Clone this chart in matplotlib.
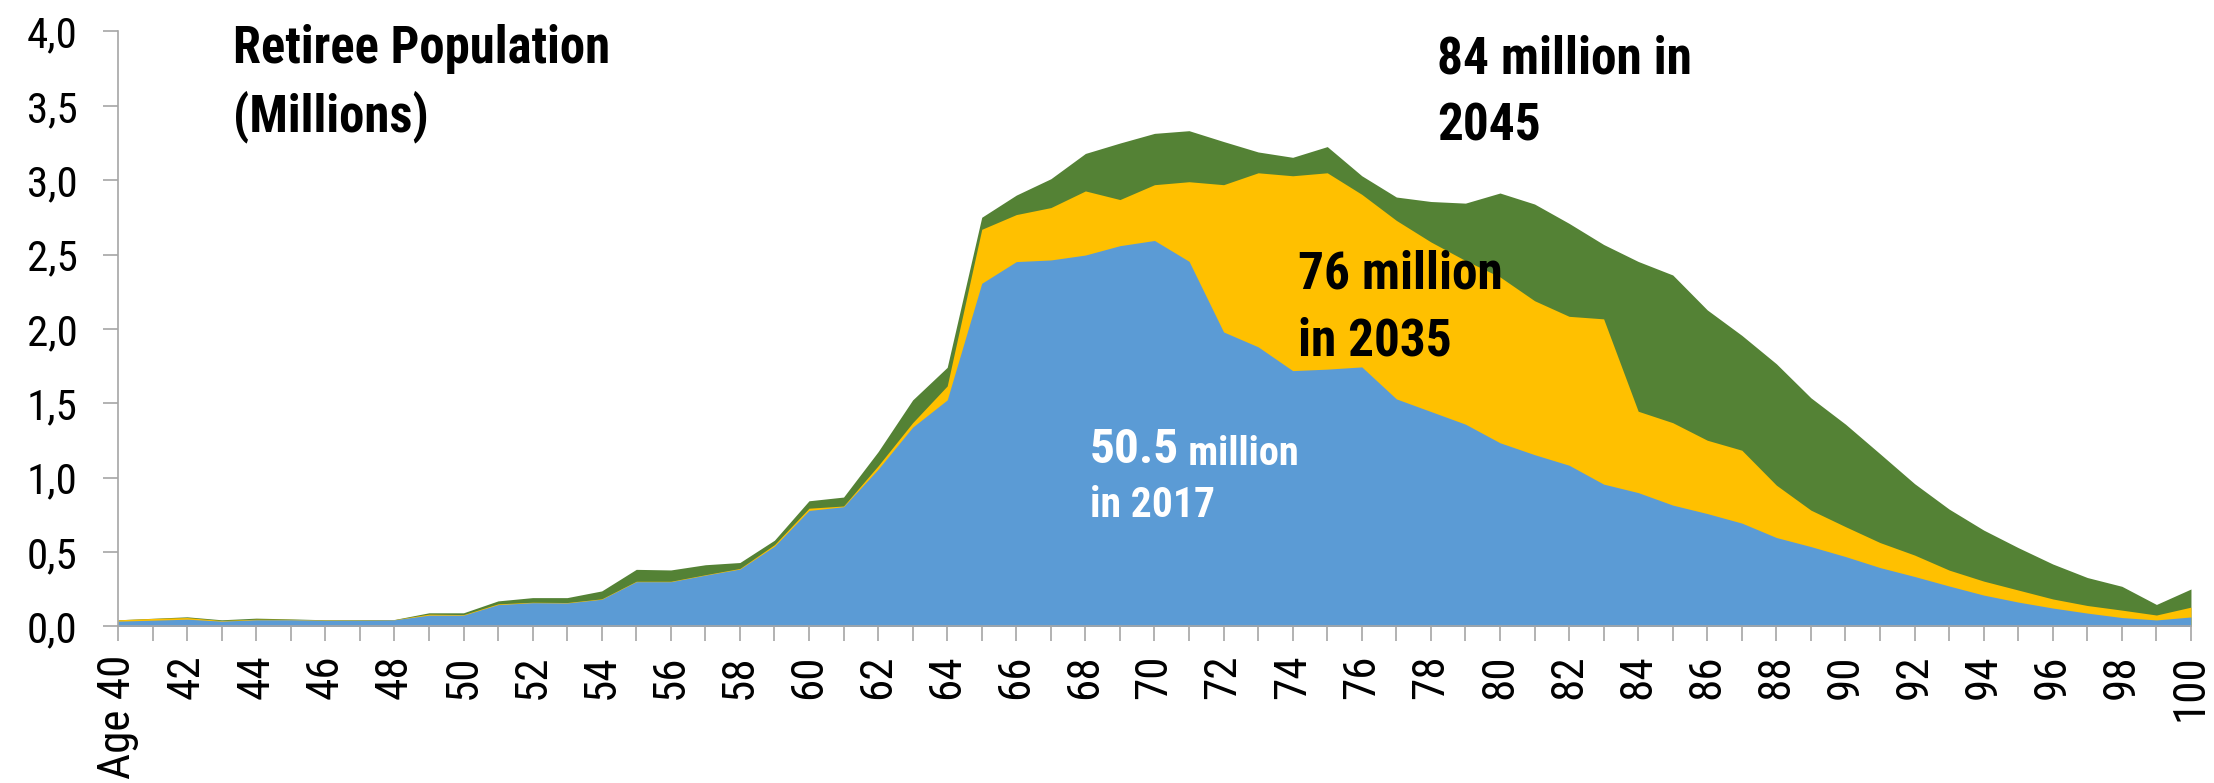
import matplotlib.pyplot as plt

plt.rcParams['font.family'] = ['Roboto Condensed', 'Liberation Sans', 'DejaVu Sans']

# retirees by age, millions
ages = list(range(40, 101))
pop_2017 = [0.036, 0.042, 0.049, 0.036, 0.045, 0.045, 0.042, 0.042, 0.045, 0.076,
            0.076, 0.147, 0.160, 0.158, 0.183, 0.301, 0.301, 0.345, 0.386, 0.540,
            0.780, 0.805, 1.057, 1.340, 1.523, 2.307, 2.453, 2.464, 2.497, 2.560,
            2.595, 2.455, 1.980, 1.880, 1.720, 1.730, 1.745, 1.530, 1.445, 1.360,
            1.235, 1.155, 1.084, 0.957, 0.900, 0.816, 0.759, 0.695, 0.598, 0.537,
            0.470, 0.396, 0.336, 0.272, 0.211, 0.164, 0.124, 0.090, 0.060, 0.044,
            0.064]
pop_2035 = [0.045, 0.054, 0.060, 0.040, 0.049, 0.048, 0.044, 0.043, 0.046, 0.083,
            0.080, 0.152, 0.163, 0.161, 0.186, 0.304, 0.304, 0.348, 0.390, 0.550,
            0.795, 0.810, 1.080, 1.370, 1.617, 2.670, 2.769, 2.816, 2.928, 2.870,
            2.970, 2.990, 2.970, 3.050, 3.030, 3.050, 2.905, 2.730, 2.585, 2.460,
            2.350, 2.190, 2.085, 2.068, 1.447, 1.370, 1.252, 1.185, 0.950, 0.782,
            0.671, 0.564, 0.480, 0.379, 0.305, 0.245, 0.185, 0.141, 0.110, 0.077,
            0.130]
pop_2045 = [0.045, 0.055, 0.065, 0.045, 0.056, 0.051, 0.045, 0.045, 0.047, 0.092,
            0.092, 0.172, 0.194, 0.194, 0.239, 0.384, 0.380, 0.415, 0.430, 0.580,
            0.845, 0.870, 1.175, 1.523, 1.742, 2.751, 2.900, 3.010, 3.180, 3.250,
            3.315, 3.333, 3.260, 3.190, 3.154, 3.226, 3.030, 2.887, 2.857, 2.846,
            2.914, 2.840, 2.710, 2.568, 2.454, 2.363, 2.128, 1.957, 1.766, 1.537,
            1.360, 1.161, 0.960, 0.789, 0.648, 0.530, 0.420, 0.329, 0.270, 0.148,
            0.252]

age_labels = ['Age 40', '', '42', '', '44', '', '46', '', '48', '', '50', '', '52', '',
              '54', '', '56', '', '58', '', '60', '', '62', '', '64', '', '66', '',
              '68', '', '70', '', '72', '', '74', '', '76', '', '78', '', '80', '',
              '82', '', '84', '', '86', '', '88', '', '90', '', '92', '', '94', '',
              '96', '', '98', '', '100']
y_ticks = [0.0, 0.5, 1.0, 1.5, 2.0, 2.5, 3.0, 3.5, 4.0]
y_tick_labels = ['0,0', '0,5', '1,0', '1,5', '2,0', '2,5', '3,0', '3,5', '4,0']

fig = plt.figure(figsize=(22.14, 7.83), dpi=100)
ax = fig.add_axes([0.0533, 0.1999, 0.9363, 0.7599])

# later years behind, earlier years in front
ax.fill_between(ages, pop_2045, color='#548235', lw=0)
ax.fill_between(ages, pop_2035, color='#FFC000', lw=0)
ax.fill_between(ages, pop_2017, color='#5B9BD5', lw=0)

ax.set_xlim(40, 100)
ax.set_ylim(0, 4.0)

ax.set_xticks(ages)
ax.set_xticklabels(age_labels, rotation=90, fontsize=32.5)
ax.set_yticks(y_ticks)
ax.set_yticklabels(y_tick_labels, fontsize=31)

grey = '#A6A6A6'
for side in ['top', 'right']:
    ax.spines[side].set_visible(False)
for side in ['left', 'bottom']:
    ax.spines[side].set_color(grey)
    ax.spines[side].set_linewidth(1.2)
ax.tick_params(axis='x', length=11, width=1.2, color=grey, pad=9)
ax.tick_params(axis='y', length=11, width=1.2, color=grey, pad=18)

# y is the baseline of the last line
ax.text(43.33, 3.331, 'Retiree Population\n(Millions)', fontsize=36.5,
        fontweight='bold', va='baseline', linespacing=1.4)
ax.text(78.17, 3.266, '84 million in\n2045', fontsize=37,
        fontweight='bold', va='baseline', linespacing=1.43)
ax.text(74.15, 1.822, '76 million\nin 2035', fontsize=37,
        fontweight='bold', va='baseline', linespacing=1.43)

t50 = ax.text(68.13, 1.099, '50.5', fontsize=35.5, fontweight='bold',
              color='white', va='baseline')
ax.annotate(' million', xy=(1, 0), xycoords=t50, fontsize=29,
            fontweight='bold', color='white', va='bottom', ha='left')
ax.text(68.13, 0.7375, 'in 2017', fontsize=30, fontweight='bold',
        color='white', va='baseline')

fig.savefig('out.png', dpi=100)
